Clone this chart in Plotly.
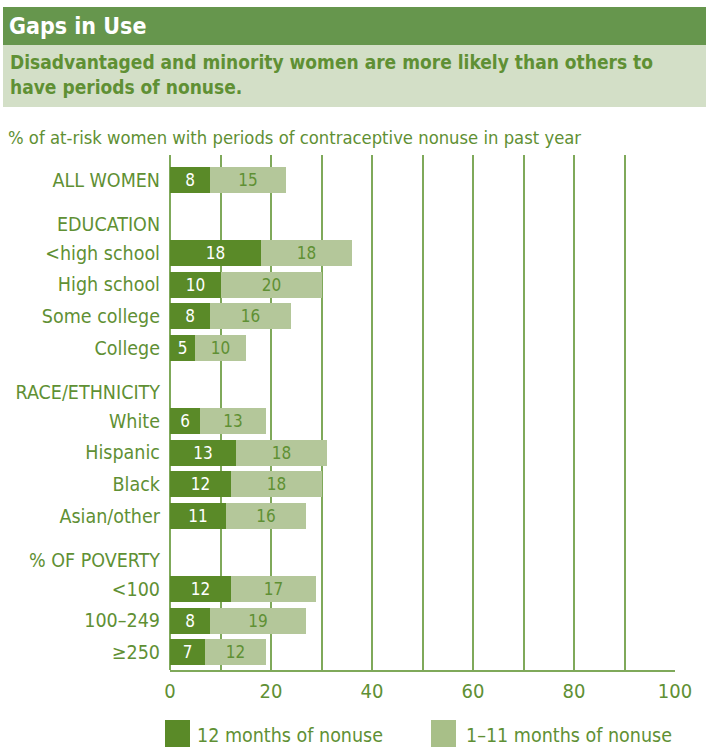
import plotly.graph_objects as go

# ---------------- data ----------------
top_label = "ALL WOMEN"
group_headers = ["EDUCATION", "RACE/ETHNICITY", "% OF POVERTY"]
group_items = [
    ["<high school", "High school", "Some college", "College"],
    ["White", "Hispanic", "Black", "Asian/other"],
    ["<100", "100–249", "≥250"],
]
months_12 = [8, 18, 10, 8, 5, 6, 13, 12, 11, 12, 8, 7]
months_1_11 = [15, 18, 20, 16, 10, 13, 18, 18, 16, 17, 19, 12]
x_ticks = [0, 20, 40, 60, 80, 100]

title = "Gaps in Use"
subtitle = "Disadvantaged and minority women are more likely than others to<br>have periods of nonuse."
axis_title = "% of at-risk women with periods of contraceptive nonuse in past year"
legend_names = ["12 months of nonuse", "1–11 months of nonuse"]

# ---------------- styles ----------------
DARK = "#5a8a28"
LIGHT = "#b4c79a"
TEXT = "#5f9034"
GRID = "#7fa95a"
BAND_DARK = "#66964d"
BAND_LIGHT = "#d3dfc7"
FONT = "DejaVu Sans Condensed, DejaVu Sans, sans-serif"

W, H = 706, 747
L, R, T, B = 170, 675, 155, 670


def px(x):
    return (x - L) / (R - L)


def py(y):
    return (B - y) / (B - T)


# ---------------- layout of rows (computed) ----------------
GAP = 2.3      # distance from last item of a group to first item of next
HEAD = 0.9     # header sits this far above the first item
labels, ypos = [top_label], [0.0]
tick_vals, tick_text = [0.0], [top_label]
cur = 0.0
for hdr, items in zip(group_headers, group_items):
    cur += GAP
    tick_vals.append(cur - HEAD)
    tick_text.append(hdr)
    for i, it in enumerate(items):
        if i > 0:
            cur += 1.0
        labels.append(it)
        ypos.append(cur)
        tick_vals.append(cur)
        tick_text.append(it)

fig = go.Figure()
fig.add_trace(go.Bar(
    y=ypos, x=months_12, orientation="h", name=legend_names[0],
    marker=dict(color=DARK, line=dict(width=0)), width=0.82,
    text=[str(v) for v in months_12], textposition="inside",
    insidetextanchor="middle", textangle=0,
    textfont=dict(color="white", size=17, family=FONT),
    showlegend=False,
))
fig.add_trace(go.Bar(
    y=ypos, x=months_1_11, orientation="h", name=legend_names[1],
    marker=dict(color=LIGHT, line=dict(width=0)), width=0.82,
    text=[str(v) for v in months_1_11], textposition="inside",
    insidetextanchor="middle", textangle=0,
    textfont=dict(color=TEXT, size=17, family=FONT),
    showlegend=False,
))

shapes = [
    dict(type="rect", xref="paper", yref="paper", x0=px(3), x1=px(706),
         y0=py(45), y1=py(7), fillcolor=BAND_DARK, line=dict(width=0), layer="below"),
    dict(type="rect", xref="paper", yref="paper", x0=px(3), x1=px(706),
         y0=py(107), y1=py(45), fillcolor=BAND_LIGHT, line=dict(width=0), layer="below"),
    # legend swatches
    dict(type="rect", xref="paper", yref="paper", x0=px(165), x1=px(190),
         y0=py(747), y1=py(720), fillcolor=DARK, line=dict(width=0)),
    dict(type="rect", xref="paper", yref="paper", x0=px(431), x1=px(456),
         y0=py(747), y1=py(720), fillcolor="#a8bf88", line=dict(width=0)),
]

annotations = [
    dict(xref="paper", yref="paper", x=px(7), y=py(26), xanchor="left", yanchor="middle",
         text="<b>" + title + "</b>", showarrow=False,
         font=dict(family=FONT, size=23, color="white")),
    dict(xref="paper", yref="paper", x=px(8), y=py(49), xanchor="left", yanchor="top",
         text="<b>" + subtitle + "</b>", showarrow=False, align="left",
         font=dict(family=FONT, size=19, color=TEXT)),
    dict(xref="paper", yref="paper", x=px(6), y=py(137), xanchor="left", yanchor="middle",
         text=axis_title, showarrow=False,
         font=dict(family=FONT, size=18.3, color=TEXT)),
    dict(xref="paper", yref="paper", x=px(195), y=py(735), xanchor="left", yanchor="middle",
         text=legend_names[0], showarrow=False,
         font=dict(family=FONT, size=19.5, color=TEXT)),
    dict(xref="paper", yref="paper", x=px(464), y=py(735), xanchor="left", yanchor="middle",
         text=legend_names[1], showarrow=False,
         font=dict(family=FONT, size=19.5, color=TEXT)),
]

fig.update_layout(
    width=W, height=H,
    margin=dict(l=L, r=W - R, t=T, b=H - B, pad=0, autoexpand=False),
    barmode="stack", bargap=0,
    plot_bgcolor="white", paper_bgcolor="white",
    font=dict(family=FONT, color=TEXT),
    shapes=shapes, annotations=annotations,
    xaxis=dict(
        range=[0, 100], tickvals=x_ticks, ticks="", ticklabelstandoff=2,
        tickfont=dict(size=20, color=TEXT, family=FONT), automargin=False,
        showgrid=True, gridcolor=GRID, gridwidth=1.5,
        minor=dict(dtick=10, showgrid=True, gridcolor=GRID, gridwidth=1.5),
        showline=True, linecolor=GRID, linewidth=2,
        zeroline=True, zerolinecolor=GRID, zerolinewidth=2,
        fixedrange=True,
    ),
    yaxis=dict(
        range=[15.46, -0.79], tickvals=tick_vals, ticktext=tick_text,
        ticks="", ticklabelstandoff=9, automargin=False,
        tickfont=dict(size=19.5, color=TEXT, family=FONT),
        showgrid=False, zeroline=False, showline=False, fixedrange=True,
    ),
)

fig.write_html("out.html")
